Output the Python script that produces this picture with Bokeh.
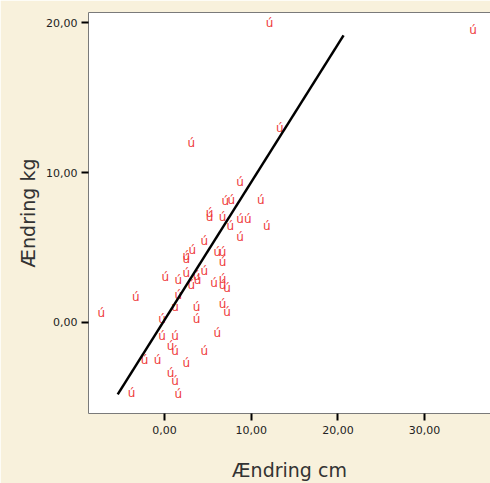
from bokeh.plotting import figure
from bokeh.models import Range1d, FixedTicker, ColumnDataSource, LinearAxis
from bokeh.core.properties import value
from bokeh.embed import file_html
from bokeh.resources import INLINE

# --- data (Ændring cm vs Ændring kg) ---
change_cm = [12.1, 35.6, 3.1, 13.3, 8.7, 11.1, 7.0, 7.7, 5.2, 5.2,
             6.7, 8.7, 9.6, 7.6, 11.8, 4.6, 8.7, 3.2, 6.1, 6.7,
             2.5, 2.5, 6.7, 4.6, 2.5, 3.7, 3.8, 0.1, 1.6, 3.1,
             5.7, 6.7, 6.7, 7.2, -3.3, 1.6, 1.2, 3.7, 6.7, 7.2,
             -7.3, -0.3, 3.7, -0.3, 1.2, 6.1, 0.7, 1.2, 4.6, -2.3,
             -0.8, 2.5, 0.7, 1.2, -3.8, 1.6]
change_kg = [20.0, 19.5, 12.0, 13.0, 9.4, 8.2, 8.1, 8.2, 7.3, 7.0,
             7.0, 6.9, 6.9, 6.4, 6.4, 5.4, 5.7, 4.8, 4.7, 4.7,
             4.4, 4.2, 4.0, 3.4, 3.3, 3.1, 2.8, 3.0, 2.8, 2.5,
             2.6, 2.9, 2.5, 2.3, 1.7, 1.8, 1.0, 1.0, 1.2, 0.7,
             0.6, 0.2, 0.2, -0.9, -0.9, -0.7, -1.6, -1.9, -1.9, -2.5,
             -2.5, -2.7, -3.4, -3.9, -4.7, -4.8]

# fit line end points
fit_cm = [-5.4, 20.65]
fit_kg = [-4.8, 19.15]

x_ticks = [0, 10, 20, 30]
x_tick_labels = ["0,00", "10,00", "20,00", "30,00"]
y_ticks = [0, 10, 20]
y_tick_labels = ["0,00", "10,00", "20,00"]

x_label = "Ændring cm"
y_label = "Ændring kg"
marker_char = "ú"

BEIGE = "#f8f1dc"
FRAME = "#7a7a7a"

p = figure(width=490, height=483, title=None,
           x_range=Range1d(-8.77, 37.6), y_range=Range1d(-6.07, 20.67),
           output_backend="svg", toolbar_location=None,
           min_border_left=88, min_border_right=0,
           min_border_top=12, min_border_bottom=69,
           border_fill_color=BEIGE, background_fill_color="white",
           outline_line_color=None)

p.xgrid.visible = False
p.ygrid.visible = False

p.xaxis.ticker = FixedTicker(ticks=x_ticks)
p.yaxis.ticker = FixedTicker(ticks=y_ticks)
p.xaxis.major_label_overrides = {t: l for t, l in zip(x_ticks, x_tick_labels)}
p.yaxis.major_label_overrides = {t: l for t, l in zip(y_ticks, y_tick_labels)}
p.xaxis.axis_label = x_label
p.yaxis.axis_label = y_label

for ax in (p.xaxis, p.yaxis):
    ax.axis_line_color = FRAME
    ax.axis_line_width = 1
    ax.major_tick_line_color = "black"
    ax.major_tick_line_width = 2
    ax.major_tick_out = 7
    ax.major_tick_in = 0
    ax.minor_tick_line_color = None
    ax.major_label_text_font = "DejaVu Sans"
    ax.major_label_text_font_size = "11px"
    ax.major_label_text_color = "#222222"
    ax.axis_label_text_font = "DejaVu Sans"
    ax.axis_label_text_font_size = "19px"
    ax.axis_label_text_font_style = "normal"
    ax.axis_label_text_color = "#333333"

p.xaxis.major_label_standoff = 5
p.yaxis.major_label_standoff = 4
p.xaxis.axis_label_standoff = 22
p.yaxis.axis_label_standoff = 4

# top frame line only (the right side of the frame is outside the picture)
top_axis = LinearAxis(ticker=FixedTicker(ticks=[]), axis_line_color=FRAME,
                      axis_line_width=1, major_tick_line_color=None,
                      minor_tick_line_color=None,
                      major_label_text_font_size="0px")
p.add_layout(top_axis, "above")

src = ColumnDataSource(data=dict(x=change_cm, y=change_kg,
                                 t=[marker_char] * len(change_cm)))
p.text(x="x", y="y", text="t", source=src,
       text_font=value("DejaVu Sans"), text_font_size="12px",
       text_color="#ee3b3b", text_align="center", text_baseline="middle")

p.line(fit_cm, fit_kg, line_color="black", line_width=2.5)

with open("out.html", "w", encoding="utf-8") as f:
    f.write(file_html(p, INLINE))
